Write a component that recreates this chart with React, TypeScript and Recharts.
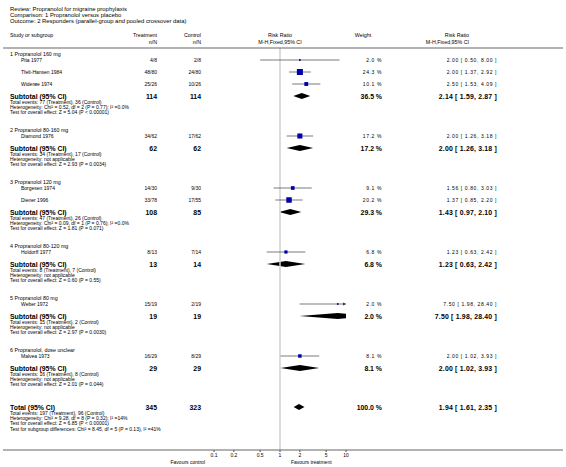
import { ComposedChart, XAxis, YAxis, Line, Area, Scatter, ReferenceLine } from "recharts"

const reviewTitle = "Propranolol for migraine prophylaxis"
const comparisonTitle = "1 Propranolol versus placebo"
const outcomeTitle = "2 Responders (parallel-group and pooled crossover data)"

const groupTitles = [
  "1 Propranolol 160 mg",
  "2 Propranolol 80-160 mg",
  "3 Propranolol 120 mg",
  "4 Propranolol 80-120 mg",
  "5 Propranolol 80 mg",
  "6 Propranolol, dose unclear",
]

const studyNames = [
  "Pita 1977",
  "Tfelt-Hansen 1984",
  "Widerøe 1974",
  "Diamond 1976",
  "Borgesen 1974",
  "Diener 1996",
  "Holdorff 1977",
  "Weber 1972",
  "Malvea 1973",
]
const studyGroup = [0, 0, 0, 1, 2, 2, 3, 4, 5]
const treatEvents = [4, 48, 25, 34, 14, 33, 8, 15, 16]
const treatTotal = [8, 80, 26, 62, 30, 78, 13, 19, 29]
const ctrlEvents = [2, 24, 10, 17, 9, 17, 7, 2, 8]
const ctrlTotal = [8, 80, 26, 62, 30, 55, 14, 19, 29]
const studyRR = [2.0, 2.0, 2.5, 2.0, 1.56, 1.37, 1.23, 7.5, 2.0]
const studyLow = [0.5, 1.37, 1.53, 1.26, 0.8, 0.85, 0.63, 1.98, 1.02]
const studyHigh = [8.0, 2.92, 4.09, 3.18, 3.03, 2.2, 2.42, 28.4, 3.93]
const studyWeight = [2.0, 24.3, 10.1, 17.2, 9.1, 20.2, 6.8, 2.0, 8.1]

const subTreatN = [114, 62, 108, 13, 19, 29]
const subCtrlN = [114, 62, 85, 14, 19, 29]
const subTreatEvents = [77, 34, 47, 8, 15, 16]
const subCtrlEvents = [36, 17, 26, 7, 2, 8]
const subRR = [2.14, 2.0, 1.43, 1.23, 7.5, 2.0]
const subLow = [1.59, 1.26, 0.97, 0.63, 1.98, 1.02]
const subHigh = [2.87, 3.18, 2.1, 2.42, 28.4, 3.93]
const subWeight = [36.5, 17.2, 29.3, 6.8, 2.0, 8.1]
const subHeterogeneity = [
  "Chi² = 0.52, df = 2 (P = 0.77); I² =0.0%",
  "not applicable",
  "Chi² = 0.09, df = 1 (P = 0.76); I² =0.0%",
  "not applicable",
  "not applicable",
  "not applicable",
]
const subOverall = [
  "Z = 5.04 (P < 0.00001)",
  "Z = 2.93 (P = 0.0034)",
  "Z = 1.81 (P = 0.071)",
  "Z = 0.60 (P = 0.55)",
  "Z = 2.97 (P = 0.0030)",
  "Z = 2.01 (P = 0.044)",
]

const totalTreatN = 345
const totalCtrlN = 323
const totalTreatEvents = 197
const totalCtrlEvents = 96
const totalRR = 1.94
const totalLow = 1.61
const totalHigh = 2.35
const totalWeight = 100.0
const totalHeterogeneity = "Chi² = 9.28, df = 8 (P = 0.32); I² =14%"
const totalOverall = "Z = 6.85 (P < 0.00001)"
const subgroupDiff = "Chi² = 8.45, df = 5 (P = 0.13), I² =41%"

const tickValues = [0.1, 0.2, 0.5, 1, 2, 5, 10]
const favoursLeft = "Favours control"
const favoursRight = "Favours treatment"

// layout
const W = 566
const H = 467
const AXIS_Y = 450
const PLOT_LEFT = 214
const PLOT_RIGHT = 346
const FONT = "'Liberation Sans', Arial, Helvetica, sans-serif"
const COL = { left: 10, study: 21, treat: 157, ctrl: 201, plot: 280, weight: 382, weightHead: 363, ci: 497, ciHead: 469 }
const SMALL = 5
const HEAD = 5.3
const BOLD = 6.9
const DIAMOND_H = 3

const f2 = (v: number) => v.toFixed(2)
const ciText = (rr: number, lo: number, hi: number) => `${f2(rr)} [ ${f2(lo)}, ${f2(hi)} ]`
const wText = (w: number) => `${w.toFixed(1)} %`

type Row = { x: number; y: number; kind: string; [k: string]: any }
const textRows: Row[] = []
const studyMarks: { x: number; y: number; w: number; lo: number; hi: number }[] = []
const diamonds: { y: number; lo: number; rr: number; hi: number }[] = []

textRows.push({ x: 0, y: 9, kind: "title", label: `Review: ${reviewTitle}` })
textRows.push({ x: 0, y: 15, kind: "title", label: `Comparison: ${comparisonTitle}` })
textRows.push({ x: 0, y: 21, kind: "title", label: `Outcome: ${outcomeTitle}` })
textRows.push({ x: 0, y: 35, kind: "head1" })
textRows.push({ x: 0, y: 42, kind: "head2" })
textRows.push({ x: 0, y: 48, kind: "rule" })
textRows.push({ x: 0, y: AXIS_Y, kind: "axis" })

const infoLines = (y: number, lines: string[]) => {
  lines.forEach((t, k) => textRows.push({ x: 0, y: y + 6 + 5.2 * k, kind: "info", label: t }))
}

let y = 53.5
groupTitles.forEach((title, g) => {
  textRows.push({ x: 0, y, kind: "group", label: title })
  y += 6.5
  studyNames.forEach((name, i) => {
    if (studyGroup[i] !== g) return
    textRows.push({
      x: 0, y, kind: "study", label: name,
      treat: `${treatEvents[i]}/${treatTotal[i]}`,
      ctrl: `${ctrlEvents[i]}/${ctrlTotal[i]}`,
      weight: wText(studyWeight[i]),
      ci: ciText(studyRR[i], studyLow[i], studyHigh[i]),
    })
    studyMarks.push({ x: studyRR[i], y, w: studyWeight[i], lo: studyLow[i], hi: studyHigh[i] })
    y += 12
  })
  textRows.push({
    x: 0, y, kind: "subtotal", label: "Subtotal (95% CI)",
    treat: String(subTreatN[g]), ctrl: String(subCtrlN[g]),
    weight: wText(subWeight[g]), ci: ciText(subRR[g], subLow[g], subHigh[g]),
  })
  diamonds.push({ y, lo: subLow[g], rr: subRR[g], hi: subHigh[g] })
  infoLines(y, [
    `Total events: ${subTreatEvents[g]} (Treatment), ${subCtrlEvents[g]} (Control)`,
    `Heterogeneity: ${subHeterogeneity[g]}`,
    `Test for overall effect: ${subOverall[g]}`,
  ])
  y += g === groupTitles.length - 1 ? 39 : 33.5
})
textRows.push({
  x: 0, y, kind: "subtotal", label: "Total (95% CI)",
  treat: String(totalTreatN), ctrl: String(totalCtrlN),
  weight: wText(totalWeight), ci: ciText(totalRR, totalLow, totalHigh),
})
diamonds.push({ y, lo: totalLow, rr: totalRR, hi: totalHigh })
infoLines(y, [
  `Total events: ${totalTreatEvents} (Treatment), ${totalCtrlEvents} (Control)`,
  `Heterogeneity: ${totalHeterogeneity}`,
  `Test for overall effect: ${totalOverall}`,
  `Test for subgroup differences: ${subgroupDiff}`,
])

const domainMax = tickValues[tickValues.length - 1]
const arrows = studyMarks.filter((m) => m.hi > domainMax).map((m) => ({ x: domainMax, y: m.y }))

function T(p: { x: number; y: number; size: number; anchor?: "start" | "middle" | "end"; bold?: boolean; spacing?: number; children: any }) {
  return (
    <text
      x={p.x}
      y={p.y}
      fontSize={p.size}
      fontFamily={FONT}
      fontWeight={p.bold ? "bold" : "normal"}
      textAnchor={p.anchor || "start"}
      dominantBaseline="central"
      letterSpacing={p.spacing || 0}
      fill="#000"
    >
      {p.children}
    </text>
  )
}

function Rule({ y }: { y: number }) {
  return <rect x={3} y={y - 0.5} width={W - 6} height={1} fill="#666" />
}

function RowShape(props: any) {
  const { cy, payload: r } = props
  switch (r.kind) {
    case "title":
      return <T x={COL.left} y={cy} size={5.9}>{r.label}</T>
    case "head1":
      return (
        <g>
          <T x={COL.left} y={cy} size={HEAD}>Study or subgroup</T>
          <T x={COL.treat} y={cy} size={HEAD} anchor="end">Treatment</T>
          <T x={COL.ctrl} y={cy} size={HEAD} anchor="end">Control</T>
          <T x={COL.plot} y={cy} size={HEAD} anchor="middle">Risk Ratio</T>
          <T x={COL.weightHead} y={cy} size={HEAD} anchor="middle">Weight</T>
          <T x={COL.ciHead} y={cy} size={HEAD} anchor="end">Risk Ratio</T>
        </g>
      )
    case "head2":
      return (
        <g>
          <T x={COL.treat} y={cy} size={HEAD} anchor="end">n/N</T>
          <T x={COL.ctrl} y={cy} size={HEAD} anchor="end">n/N</T>
          <T x={COL.plot} y={cy} size={HEAD} anchor="middle">M-H,Fixed,95% CI</T>
          <T x={COL.ciHead} y={cy} size={HEAD} anchor="end">M-H,Fixed,95% CI</T>
        </g>
      )
    case "rule":
      return <Rule y={cy} />
    case "axis":
      return (
        <g>
          <Rule y={cy} />
          <T x={205} y={cy + 12} size={SMALL} anchor="end">{favoursLeft}</T>
          <T x={291} y={cy + 12} size={SMALL}>{favoursRight}</T>
        </g>
      )
    case "group":
      return <T x={COL.left} y={cy} size={HEAD}>{r.label}</T>
    case "info":
      return <T x={COL.left} y={cy} size={SMALL}>{r.label}</T>
    case "study":
      return (
        <g>
          <T x={COL.study} y={cy} size={SMALL}>{r.label}</T>
          <T x={COL.treat} y={cy} size={SMALL} anchor="end">{r.treat}</T>
          <T x={COL.ctrl} y={cy} size={SMALL} anchor="end">{r.ctrl}</T>
          <T x={COL.weight} y={cy} size={SMALL} anchor="end" spacing={0.6}>{r.weight}</T>
          <T x={COL.ci} y={cy} size={SMALL} anchor="end" spacing={0.6}>{r.ci}</T>
        </g>
      )
    case "subtotal":
      return (
        <g>
          <T x={COL.left} y={cy} size={BOLD} bold>{r.label}</T>
          <T x={COL.treat} y={cy} size={BOLD} bold anchor="end">{r.treat}</T>
          <T x={COL.ctrl} y={cy} size={BOLD} bold anchor="end">{r.ctrl}</T>
          <T x={COL.weight} y={cy} size={BOLD} bold anchor="end">{r.weight}</T>
          <T x={COL.ci} y={cy} size={BOLD} bold anchor="end" spacing={0.2}>{r.ci}</T>
        </g>
      )
    default:
      return <g />
  }
}

function StudySquare(props: any) {
  const { cx, cy, payload } = props
  const s = Math.max(1.5, 1.22 * Math.sqrt(payload.w))
  return <rect x={cx - s / 2} y={cy - s / 2} width={s} height={s} fill="#0000a8" />
}

function ArrowHead(props: any) {
  const { cx, cy } = props
  return <polygon points={`${cx},${cy} ${cx - 3},${cy - 1.6} ${cx - 3},${cy + 1.6}`} fill="#333" />
}

export default function App() {
  return (
    <div style={{ position: "absolute", left: 0, top: 0, width: W, height: H, background: "#fff" }}>
      <ComposedChart
        width={W}
        height={H}
        margin={{ top: 0, right: W - PLOT_RIGHT, bottom: 0, left: PLOT_LEFT }}
      >
        <XAxis
          xAxisId="rr"
          dataKey="x"
          type="number"
          scale="log"
          domain={[tickValues[0], domainMax]}
          allowDataOverflow
          ticks={tickValues}
          tickFormatter={(v) => String(v)}
          height={H - AXIS_Y}
          axisLine={false}
          tickSize={2}
          tickMargin={1}
          tickLine={{ stroke: "#444" }}
          tick={{ fontSize: SMALL, fontFamily: FONT, fill: "#000" }}
          interval={0}
        />
        <XAxis xAxisId="txt" dataKey="x" type="number" domain={[0, 1]} hide />
        <YAxis dataKey="y" type="number" domain={[0, AXIS_Y]} reversed hide />
        <ReferenceLine
          xAxisId="rr"
          segment={[{ x: 1, y: 48 }, { x: 1, y: AXIS_Y }]}
          stroke="#d0d0d0"
          strokeWidth={1.5}
        />
        {studyMarks.map((m, i) => (
          <Line
            key={`ci-${i}`}
            xAxisId="rr"
            data={[{ x: m.lo, y: m.y }, { x: m.hi, y: m.y }]}
            dataKey="y"
            type="linear"
            stroke="#444"
            strokeWidth={0.7}
            dot={false}
            activeDot={false}
            isAnimationActive={false}
          />
        ))}
        {diamonds.map((d, i) => (
          <Area
            key={`dm-${i}`}
            xAxisId="rr"
            data={[
              { x: d.lo, band: [d.y, d.y] },
              { x: d.rr, band: [d.y - DIAMOND_H, d.y + DIAMOND_H] },
              { x: d.hi, band: [d.y, d.y] },
            ]}
            dataKey="band"
            type="linear"
            stroke="none"
            fill="#000"
            fillOpacity={1}
            dot={false}
            activeDot={false}
            isAnimationActive={false}
          />
        ))}
        <Scatter xAxisId="rr" data={studyMarks} shape={StudySquare} isAnimationActive={false} />
        <Scatter xAxisId="rr" data={arrows} shape={ArrowHead} isAnimationActive={false} />
        <Scatter xAxisId="txt" data={textRows} shape={RowShape} isAnimationActive={false} />
      </ComposedChart>
    </div>
  )
}
